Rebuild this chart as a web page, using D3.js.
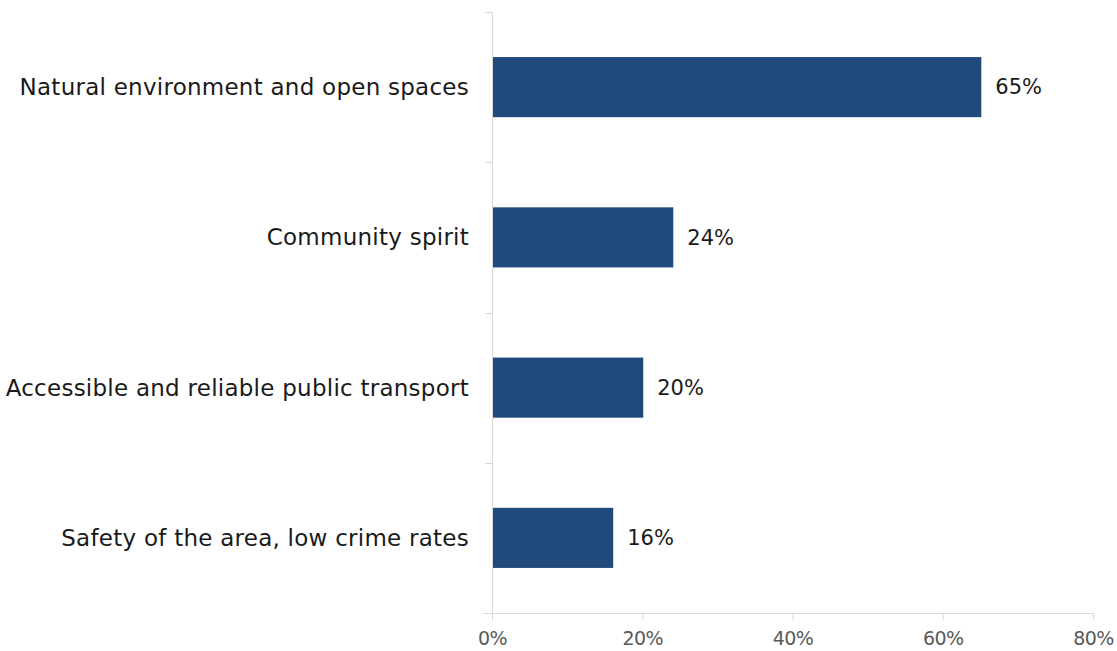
<!DOCTYPE html>
<html><head><meta charset="utf-8">
<script src="https://cdn.jsdelivr.net/npm/d3@7"></script>
<style>body{margin:0;background:#fff}svg{display:block}</style>
</head><body>
<script>
const categories = ["Natural environment and open spaces","Community spirit","Accessible and reliable public transport","Safety of the area, low crime rates"];
const values = [65, 24, 20, 16];
const xTicks = [0, 20, 40, 60, 80];

const W = 1117, H = 651;
const m = {left: 492, right: 24, top: 12, bottom: 38};
const font = "'DejaVu Sans', sans-serif";
const svg = d3.select("body").append("svg").attr("width", W).attr("height", H);

const x = d3.scaleLinear().domain([0, 80]).range([m.left, W - m.right]);
const y = d3.scaleBand().domain(categories).range([m.top, H - m.bottom]).paddingInner(0.6).paddingOuter(0.3);

// axes
const xAxis = svg.append("g").attr("transform", `translate(0,${H - m.bottom})`)
  .call(d3.axisBottom(x).tickValues(xTicks).tickFormat(d => d + "%").tickSize(7).tickPadding(12).tickSizeOuter(0));
xAxis.select(".domain").attr("stroke", "#d9d9d9").attr("d", `M${m.left - 9},0.5H${W - m.right}`);
xAxis.selectAll(".tick line").attr("stroke", "#d9d9d9");
xAxis.selectAll("text").attr("fill", "#595959").style("font-family", font).style("font-size", "19px").style("letter-spacing", "-0.5px");

// y axis line with category separators
const yAxis = svg.append("g");
yAxis.append("line").attr("x1", m.left + 0.5).attr("x2", m.left + 0.5).attr("y1", m.top).attr("y2", H - m.bottom).attr("stroke", "#d9d9d9");
const bounds = d3.range(categories.length + 1).map(i => m.top + i * (H - m.top - m.bottom) / categories.length);
yAxis.selectAll("line.sep").data(bounds).join("line").attr("class", "sep")
  .attr("x1", m.left - 7).attr("x2", m.left).attr("y1", d => Math.round(d) + 0.5).attr("y2", d => Math.round(d) + 0.5).attr("stroke", "#d9d9d9");

// category labels
svg.selectAll("text.cat").data(categories).join("text").attr("class", "cat")
  .attr("x", m.left - 23).attr("y", d => y(d) + y.bandwidth() / 2).attr("dy", "0.35em")
  .attr("text-anchor", "end").attr("fill", "#1a1a1a").style("font-family", font).style("font-size", "23px")
  .style("letter-spacing", "0.25px")
  .text(d => d);

// bars
svg.selectAll("rect.bar").data(values).join("rect").attr("class", "bar")
  .attr("x", x(0) + 1).attr("y", (d, i) => y(categories[i]))
  .attr("width", d => x(d) - x(0)).attr("height", y.bandwidth()).attr("fill", "#204a7b");

// value labels
svg.selectAll("text.val").data(values).join("text").attr("class", "val")
  .attr("x", d => x(d) + 15).attr("y", (d, i) => y(categories[i]) + y.bandwidth() / 2).attr("dy", "0.35em")
  .attr("fill", "#1a1a1a").style("font-family", font).style("font-size", "21px")
  .text(d => d + "%");
</script>
</body></html>
